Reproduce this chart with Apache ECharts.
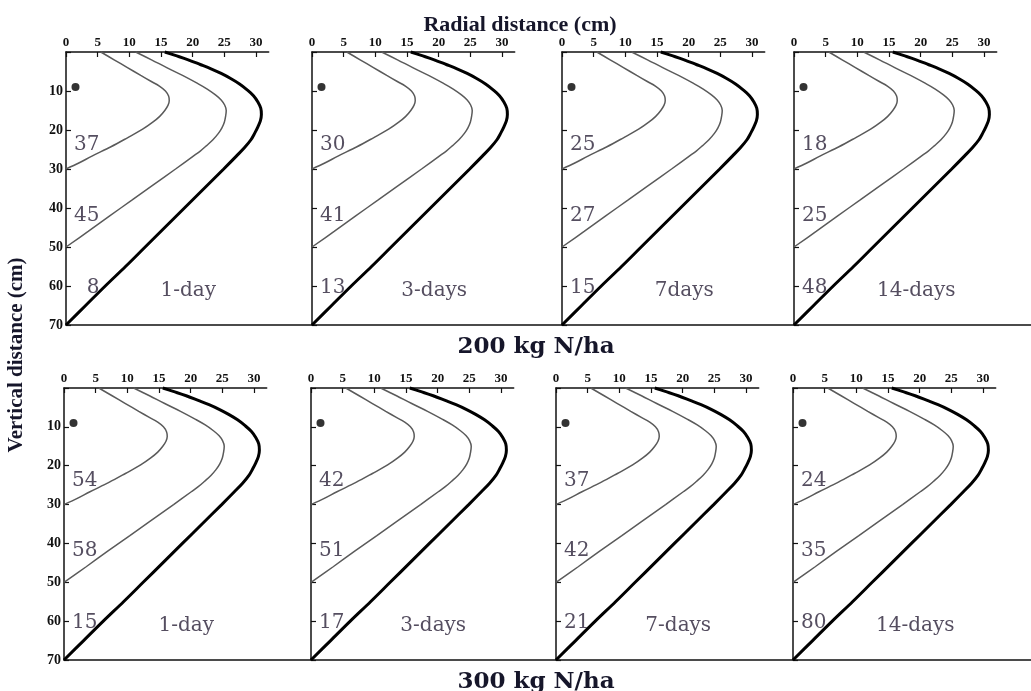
<!DOCTYPE html>
<html>
<head>
<meta charset="utf-8">
<script src="https://cdn.jsdelivr.net/npm/echarts@6/dist/echarts.min.js"></script>
<style>
  html, body { margin: 0; padding: 0; background: #fff; }
  #chart { width: 1031px; height: 691px; }
</style>
</head>
<body>
<div id="chart"></div>
<script>
// 面板标题
const dayLabels = ['1-day', '3-days', '7days', '14-days', '1-day', '3-days', '7-days', '14-days'];
const rateLabels = ['200 kg N/ha', '300 kg N/ha'];

// 每个面板三个区域的数值（从上到下）
const zoneValues = [
  [37, 45, 8], [30, 41, 13], [25, 27, 15], [18, 25, 48],
  [54, 58, 15], [42, 51, 17], [37, 42, 21], [24, 35, 80]
];

// 等值线 [径向距离, 垂向距离]
const innerCurve = [
  [5.5, 0], [7.6, 2], [9.7, 4], [11.8, 6], [13.4, 7.5], [14.8, 8.8], [15.7, 10], [16.2, 11.3],
  [16.3, 12.5], [16.1, 13.7], [15.6, 15], [14.8, 16.5], [13.7, 18], [12.1, 19.8], [9.7, 22],
  [7.1, 24.3], [4.1, 26.7], [2.1, 28.4], [0, 30]
];
const middleCurve = [
  [11, 0], [13.5, 2], [15.9, 4], [18.4, 6], [20.7, 8], [22.3, 9.5], [23.6, 11], [24.5, 12.3],
  [25.05, 13.6], [25.3, 15], [25.2, 16.5], [25, 18], [24.6, 19.5], [24, 21], [23.2, 22.5],
  [22.2, 24], [21.2, 25.4], [20.1, 26.7], [17.3, 30], [13.5, 34.4], [10.4, 38], [6.9, 42],
  [3.5, 46], [0, 50]
];
const outerCurve = [
  [15.6, 0], [17.5, 1], [19.3, 2], [21.2, 3.2], [22.9, 4.3], [24.5, 5.5], [26, 6.8], [27.4, 8.2],
  [28.6, 9.7], [29.6, 11.2], [30.3, 12.8], [30.75, 14.4], [30.85, 16], [30.7, 17.6], [30.3, 19.2],
  [29.8, 20.8], [29.2, 22.5], [28.2, 24.5], [26.9, 26.7], [24.9, 30], [21.8, 35], [18.7, 40],
  [15.6, 45], [12.5, 50], [9.4, 55], [6.2, 60], [3.1, 65], [0, 70]
];
const emitterPoint = [[1.5, 9]];

// 刻度
const xTickValues = [0, 5, 10, 15, 20, 25, 30];
const xRange = [0, 32];
const yRange = [0, 70];

// 布局
const rowTop = [52, 388];
const rowHeight = [273, 272];
const colLeft = [[66, 312, 562, 794], [64, 311, 556, 793]];
const pxPerUnit = 190 / 30;
const zoneLabelY = [23.8, 42, 60.5];
const zoneLabelX = 5.3;
const dayLabelPos = [19.3, 61.3];

const serif = '"Liberation Serif", "DejaVu Serif", serif';
const wideSerif = '"DejaVu Serif", serif';
const labelColor = '#2a2238';
const titleColor = '#16162a';

const chart = echarts.init(document.getElementById('chart'));

const grids = [], xAxes = [], yAxes = [], series = [];

for (let i = 0; i < 8; i++) {
  const row = Math.floor(i / 4), col = i % 4;
  grids.push({
    left: colLeft[row][col], top: rowTop[row],
    width: (xRange[1] - xRange[0]) * pxPerUnit, height: rowHeight[row]
  });
  xAxes.push({
    gridIndex: i, type: 'value', position: 'top', min: xRange[0], max: xRange[1], interval: 5,
    axisLine: { show: true, lineStyle: { color: '#111', width: 1.5 } },
    axisTick: { show: true, inside: true, length: 5, customValues: xTickValues, lineStyle: { color: '#111', width: 1.2 } },
    axisLabel: {
      show: true, margin: 3, customValues: xTickValues,
      fontFamily: serif, fontWeight: 'bold', fontSize: 13, color: '#111',
      formatter: v => (v > 30 ? '' : v)
    },
    splitLine: { show: false }
  });
  yAxes.push({
    gridIndex: i, type: 'value', inverse: true, min: yRange[0], max: yRange[1], interval: 10,
    axisLine: { show: true, onZero: false, lineStyle: { color: '#111', width: 1.5 } },
    axisTick: { show: true, inside: true, length: 5, lineStyle: { color: '#111', width: 1.2 } },
    axisLabel: {
      show: col === 0, margin: 3, fontFamily: serif, fontWeight: 'bold', fontSize: 14, color: '#111',
      formatter: v => (v === 0 ? '' : v)
    },
    splitLine: { show: false }
  });

  const curve = (data, color, width) => ({
    type: 'line', xAxisIndex: i, yAxisIndex: i, data: data, smooth: 0.35, symbol: 'none',
    clip: false, silent: true, lineStyle: { color: color, width: width }
  });
  series.push(curve(innerCurve, '#5a5a5a', 1.5));
  series.push(curve(middleCurve, '#5a5a5a', 1.5));
  series.push(curve(outerCurve, '#000', 3));

  series.push({
    type: 'scatter', xAxisIndex: i, yAxisIndex: i, data: emitterPoint,
    symbol: 'circle', symbolSize: 8, itemStyle: { color: '#000' }, silent: true
  });

  series.push({
    type: 'scatter', xAxisIndex: i, yAxisIndex: i, symbolSize: 0, silent: true,
    data: zoneValues[i].map((v, k) => [zoneLabelX, zoneLabelY[k], v]),
    label: {
      show: true, position: 'left', distance: 0, formatter: p => p.value[2],
      fontFamily: wideSerif, fontSize: 20, color: labelColor
    }
  });

  series.push({
    type: 'scatter', xAxisIndex: i, yAxisIndex: i, symbolSize: 0, silent: true,
    data: [[dayLabelPos[0], dayLabelPos[1], dayLabels[i]]],
    label: {
      show: true, position: 'inside', formatter: p => p.value[2],
      fontFamily: wideSerif, fontSize: 20, color: labelColor
    }
  });
}

// 贯穿每行的顶部横轴线
for (let r = 0; r < 2; r++) {
  const gi = grids.length;
  grids.push({ left: colLeft[r][0], top: rowTop[r], right: 0, height: rowHeight[r] });
  xAxes.push({
    gridIndex: gi, type: 'value', position: 'top', min: 0, max: 1,
    axisLine: { show: true, lineStyle: { color: '#111', width: 1.5 } },
    axisTick: { show: false }, axisLabel: { show: false }, splitLine: { show: false }
  });
  yAxes.push({ gridIndex: gi, type: 'value', show: false, min: 0, max: 1 });
}

const option = {
  backgroundColor: '#fff',
  animation: false,
  title: [
    { text: 'Radial distance (cm)', left: 515, top: 9, textAlign: 'center',
      textStyle: { fontFamily: serif, fontWeight: 'bold', fontSize: 22, color: titleColor } },
    { text: rateLabels[0], left: 531, top: 331, textAlign: 'center',
      textStyle: { fontFamily: wideSerif, fontWeight: 'bold', fontSize: 23, color: titleColor } },
    { text: rateLabels[1], left: 531, top: 666, textAlign: 'center',
      textStyle: { fontFamily: wideSerif, fontWeight: 'bold', fontSize: 23, color: titleColor } }
  ],
  graphic: [{
    type: 'text', x: 17, y: 355, rotation: Math.PI / 2,
    style: {
      text: 'Vertical distance (cm)', align: 'center', verticalAlign: 'middle',
      font: 'bold 21px ' + serif, fill: titleColor
    }
  }],
  grid: grids,
  xAxis: xAxes,
  yAxis: yAxes,
  series: series
};

chart.setOption(option);

window.addEventListener('resize', function() {
  chart.resize();
});
</script>
</body>
</html>
